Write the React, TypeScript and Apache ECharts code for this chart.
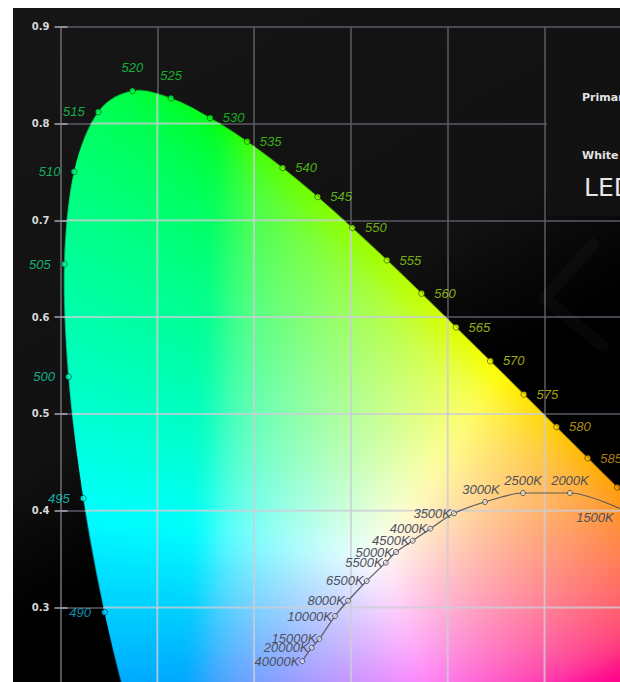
import React, { useEffect, useRef } from 'react';
import * as echarts from 'echarts';

// CIE 1931 spectral locus (nm, x, y)
const LOCUS_NM = [380, 390, 400, 410, 420, 425, 430, 435, 440, 445, 450, 455, 460, 465, 470, 475, 480, 485, 490, 495, 500, 505, 510, 515, 520, 525, 530, 535, 540, 545, 550, 555, 560, 565, 570, 575, 580, 585, 590, 595, 600, 605, 610, 615, 620, 625, 630, 635, 640, 645, 650, 660, 670, 680, 690, 700];
const LOCUS_X = [0.1741, 0.1738, 0.1733, 0.1726, 0.1714, 0.1703, 0.1689, 0.1669, 0.1644, 0.1611, 0.1566, 0.1510, 0.1440, 0.1355, 0.1241, 0.1096, 0.0913, 0.0687, 0.0454, 0.0235, 0.0082, 0.0039, 0.0139, 0.0389, 0.0743, 0.1142, 0.1547, 0.1929, 0.2296, 0.2658, 0.3016, 0.3373, 0.3731, 0.4087, 0.4441, 0.4788, 0.5125, 0.5448, 0.5752, 0.6029, 0.6270, 0.6482, 0.6658, 0.6801, 0.6915, 0.7006, 0.7079, 0.7140, 0.7190, 0.7230, 0.7260, 0.7300, 0.7320, 0.7334, 0.7344, 0.7347];
const LOCUS_Y = [0.0050, 0.0049, 0.0048, 0.0048, 0.0051, 0.0058, 0.0069, 0.0086, 0.0109, 0.0138, 0.0177, 0.0227, 0.0297, 0.0399, 0.0578, 0.0868, 0.1327, 0.2007, 0.2950, 0.4127, 0.5384, 0.6548, 0.7502, 0.8120, 0.8338, 0.8262, 0.8059, 0.7816, 0.7543, 0.7243, 0.6923, 0.6589, 0.6245, 0.5896, 0.5547, 0.5202, 0.4866, 0.4544, 0.4242, 0.3965, 0.3725, 0.3514, 0.3340, 0.3197, 0.3083, 0.2993, 0.2920, 0.2859, 0.2809, 0.2770, 0.2740, 0.2700, 0.2680, 0.2666, 0.2656, 0.2653];

// wavelengths marked with a dot (labels shown up to 585)
const MARKED_NM = [490, 495, 500, 505, 510, 515, 520, 525, 530, 535, 540, 545, 550, 555, 560, 565, 570, 575, 580, 585, 590];
const LAST_LABELLED_NM = 585;

// Planckian locus points
const PLANCK_K = [40000, 20000, 15000, 10000, 8000, 6500, 5500, 5000, 4500, 4000, 3500, 3000, 2500, 2000, 1500];
const PLANCK_X = [0.2498, 0.2595, 0.2674, 0.2836, 0.2970, 0.3163, 0.3360, 0.3466, 0.3638, 0.3820, 0.4065, 0.4385, 0.4778, 0.5263, 0.5860];
const PLANCK_Y = [0.2447, 0.2585, 0.2675, 0.2912, 0.3070, 0.3274, 0.3463, 0.3573, 0.3690, 0.3814, 0.3973, 0.4090, 0.4183, 0.4183, 0.3985];

// axes
const X_MIN = 0;
const X_MAX = 0.8;
const Y_MIN = 0;
const Y_MAX = 0.9;
const STEP = 0.1;
const Y_FIRST_LABEL = 0.3;

const PANEL_TEXTS = ['Primaries', 'White point', 'LED'];

// ---- colour rendering (Rec.2020 primaries, clipped, normalised) ----
const XYZ2RGB = [
  [1.7167, -0.3557, -0.2534],
  [-0.6667, 1.6165, 0.0158],
  [0.0176, -0.0428, 0.9421],
];
const GAINS = [1.0, 1.0, 1.2];
const GAMMA = 2.2;

function xyToRgb(x: number, y: number): number[] {
  if (y <= 1e-4) return [0, 0, 0];
  const X = x / y;
  const Z = (1 - x - y) / y;
  const c = XYZ2RGB.map((r, k) => Math.max(0, (r[0] * X + r[1] + r[2] * Z) * GAINS[k]));
  const m = Math.max(c[0], c[1], c[2]) || 1;
  return c.map((v) => Math.round(255 * Math.pow(v / m, 1 / GAMMA)));
}

const RES = 1000;
const PAD = 40;

function locusPath(ctx: CanvasRenderingContext2D) {
  const pts = LOCUS_X.map((lx, n) => [(lx - X_MIN) * RES, (Y_MAX - LOCUS_Y[n]) * RES]);
  ctx.beginPath();
  ctx.moveTo(pts[0][0], pts[0][1]);
  for (let i = 0; i < pts.length - 1; i++) {
    const p0 = pts[Math.max(0, i - 1)];
    const p1 = pts[i];
    const p2 = pts[i + 1];
    const p3 = pts[Math.min(pts.length - 1, i + 2)];
    ctx.bezierCurveTo(
      p1[0] + (p2[0] - p0[0]) / 6,
      p1[1] + (p2[1] - p0[1]) / 6,
      p2[0] - (p3[0] - p1[0]) / 6,
      p2[1] - (p3[1] - p1[1]) / 6,
      p2[0],
      p2[1],
    );
  }
  ctx.closePath();
}

function makeFillImage(): string {
  const W = Math.round((X_MAX - X_MIN) * RES);
  const H = Math.round((Y_MAX - Y_MIN) * RES);
  const SW = W + 2 * PAD;
  const SH = H + 2 * PAD;
  const src = document.createElement('canvas');
  src.width = SW;
  src.height = SH;
  const sctx = src.getContext('2d')!;
  const img = sctx.createImageData(SW, SH);
  for (let j = 0; j < SH; j++) {
    const y = Math.max(0.002, Y_MAX - (j - PAD + 0.5) / RES);
    for (let i = 0; i < SW; i++) {
      const x = X_MIN + (i - PAD + 0.5) / RES;
      const c = xyToRgb(x, y);
      const k = (j * SW + i) * 4;
      img.data[k] = c[0];
      img.data[k + 1] = c[1];
      img.data[k + 2] = c[2];
      img.data[k + 3] = 255;
    }
  }
  sctx.putImageData(img, 0, 0);

  const out = document.createElement('canvas');
  out.width = W;
  out.height = H;
  const ctx = out.getContext('2d')!;
  ctx.save();
  locusPath(ctx);
  ctx.clip();
  ctx.filter = 'blur(12px)';
  ctx.drawImage(src, -PAD, -PAD);
  ctx.filter = 'none';
  // grid lines seen through the colour fill
  ctx.strokeStyle = 'rgba(205,205,215,0.8)';
  ctx.lineWidth = 2;
  for (let v = X_MIN; v <= X_MAX + 1e-9; v += STEP) {
    const px = (v - X_MIN) * RES;
    ctx.beginPath();
    ctx.moveTo(px, 0);
    ctx.lineTo(px, H);
    ctx.stroke();
  }
  for (let v = Y_MIN; v <= Y_MAX + 1e-9; v += STEP) {
    const py = (Y_MAX - v) * RES;
    ctx.beginPath();
    ctx.moveTo(0, py);
    ctx.lineTo(W, py);
    ctx.stroke();
  }
  ctx.restore();
  return out.toDataURL('image/png');
}

function labelColor(c: number[]) {
  return `rgb(${c.map((v) => Math.round(v * 0.76 + 22)).join(',')})`;
}

function spectralLabel(nm: number) {
  const show = nm <= LAST_LABELLED_NM;
  if (nm <= 515) return { show, position: 'left', distance: 10 };
  if (nm <= 525) return { show, position: 'top', distance: 13 };
  return { show, position: 'right', distance: 9 };
}

function planckLabel(k: number) {
  if (k >= 3500) return { position: 'left', distance: 0 };
  if (k >= 2000) return { position: 'top', distance: 3, offset: k === 3000 ? [-4, 0] : [0, 0] };
  return { position: 'left', distance: 11, offset: [0, 5] };
}

export default function App() {
  const ref = useRef<HTMLDivElement>(null);

  useEffect(() => {
    if (!ref.current) return;
    const chart = echarts.init(ref.current, undefined, { renderer: 'svg' });
    const fillUrl = makeFillImage();

    const spectralData = MARKED_NM.map((nm) => {
      const n = LOCUS_NM.indexOf(nm);
      const x = LOCUS_X[n];
      const y = LOCUS_Y[n];
      const c = xyToRgb(x, y);
      return {
        value: [x, y, nm],
        itemStyle: { color: `rgb(${c.join(',')})` },
        label: { ...spectralLabel(nm), color: labelColor(c) },
      };
    });

    const planckData = PLANCK_K.map((k, n) => ({
      value: [PLANCK_X[n], PLANCK_Y[n], k],
      label: planckLabel(k),
    }));

    const gridColor = '#5c5a66';

    const option: any = {
      animation: false,
      backgroundColor: {
        type: 'linear',
        x: 0,
        y: 0,
        x2: 0.5,
        y2: 1,
        colorStops: [
          { offset: 0, color: '#161616' },
          { offset: 0.56, color: '#111111' },
          { offset: 0.65, color: '#080808' },
          { offset: 0.74, color: '#000000' },
          { offset: 1, color: '#000000' },
        ],
      },
      grid: {
        left: 47.5,
        top: 18.7,
        width: (X_MAX - X_MIN) * 968,
        height: (Y_MAX - Y_MIN) * 968,
        containLabel: false,
        outerBoundsMode: 'none',
      },
      xAxis: {
        type: 'value',
        min: X_MIN,
        max: X_MAX,
        interval: STEP,
        axisLine: { show: false },
        axisTick: { show: false },
        axisLabel: { show: false },
        splitLine: { show: true, lineStyle: { color: gridColor, width: 1.5 } },
      },
      yAxis: [
        {
          type: 'value',
          min: Y_MIN,
          max: Y_MAX,
          interval: STEP,
          axisLine: { show: true, lineStyle: { color: gridColor, width: 1.5 } },
          axisTick: { show: true, length: 6, lineStyle: { color: '#a9a9b2', width: 1.5 } },
          axisLabel: {
            margin: 11,
            color: '#d8d8d8',
            fontFamily: 'DejaVu Sans',
            fontWeight: 'bold',
            fontSize: 10,
            formatter: (v: number) => (v >= Y_FIRST_LABEL - 1e-6 ? v.toFixed(1) : ''),
          },
          splitLine: { show: true, lineStyle: { color: gridColor, width: 1.5 } },
        },
        {
          type: 'value',
          min: Y_MIN,
          max: Y_MAX,
          interval: STEP,
          position: 'left',
          offset: -7,
          axisLine: { show: false },
          axisTick: { show: true, length: 7, lineStyle: { color: '#a9a9b2', width: 1.5 } },
          axisLabel: { show: false },
          splitLine: { show: false },
        },
      ],
      graphic: [
        {
          type: 'rect',
          z: 5,
          shape: { x: 534, y: 21, width: 120, height: 187 },
          style: { fill: '#121212' },
          silent: true,
        },
        {
          type: 'polyline',
          z: 6,
          shape: { points: [[580, 236], [532, 291], [590, 338]] },
          style: { stroke: 'rgba(255,255,255,0.028)', lineWidth: 12, lineCap: 'round', lineJoin: 'round', fill: null },
          silent: true,
        },
        {
          type: 'text',
          z: 7,
          x: 569,
          y: 89,
          style: { text: PANEL_TEXTS[0], fill: '#e2e2e2', fontFamily: 'DejaVu Sans', fontWeight: 'bold', fontSize: 11, verticalAlign: 'middle' },
        },
        {
          type: 'text',
          z: 7,
          x: 569,
          y: 147,
          style: { text: PANEL_TEXTS[1], fill: '#e2e2e2', fontFamily: 'DejaVu Sans', fontWeight: 'bold', fontSize: 11, verticalAlign: 'middle' },
        },
        {
          type: 'text',
          z: 7,
          x: 571,
          y: 179,
          style: { text: PANEL_TEXTS[2], fill: '#e6e6e6', fontFamily: 'DejaVu Sans', fontSize: 25, verticalAlign: 'middle' },
        },
      ],
      series: [
        {
          type: 'custom',
          coordinateSystem: 'cartesian2d',
          silent: true,
          z: 1,
          clip: false,
          data: [[X_MIN, Y_MIN]],
          renderItem: (_params: any, api: any) => {
            const p0 = api.coord([X_MIN, Y_MAX]);
            const p1 = api.coord([X_MAX, Y_MIN]);
            return {
              type: 'image',
              style: { image: fillUrl, x: p0[0], y: p0[1], width: p1[0] - p0[0], height: p1[1] - p0[1] },
            };
          },
        },
        {
          type: 'line',
          data: planckData,
          smooth: 0.3,
          z: 3,
          symbol: 'circle',
          symbolSize: 5,
          lineStyle: { color: '#5a5a62', width: 1.2 },
          itemStyle: { color: 'rgba(255,255,255,0.55)', borderColor: '#55555c', borderWidth: 1 },
          label: {
            show: true,
            formatter: (p: any) => `${p.value[2]}K`,
            color: '#50505c',
            fontFamily: 'Liberation Sans',
            fontStyle: 'italic',
            fontSize: 13,
          },
          silent: true,
        },
        {
          type: 'scatter',
          data: spectralData,
          z: 4,
          symbol: 'circle',
          symbolSize: 6,
          itemStyle: { borderColor: 'rgba(0,0,0,0.6)', borderWidth: 1 },
          label: {
            show: true,
            formatter: (p: any) => `${p.value[2]}`,
            fontFamily: 'Liberation Sans',
            fontStyle: 'italic',
            fontSize: 13,
          },
          silent: true,
        },
      ],
    };

    chart.setOption(option);
    return () => chart.dispose();
  }, []);

  return (
    <div
      ref={ref}
      style={{ position: 'absolute', left: 13, top: 8, width: 607, height: 674 }}
    />
  );
}
